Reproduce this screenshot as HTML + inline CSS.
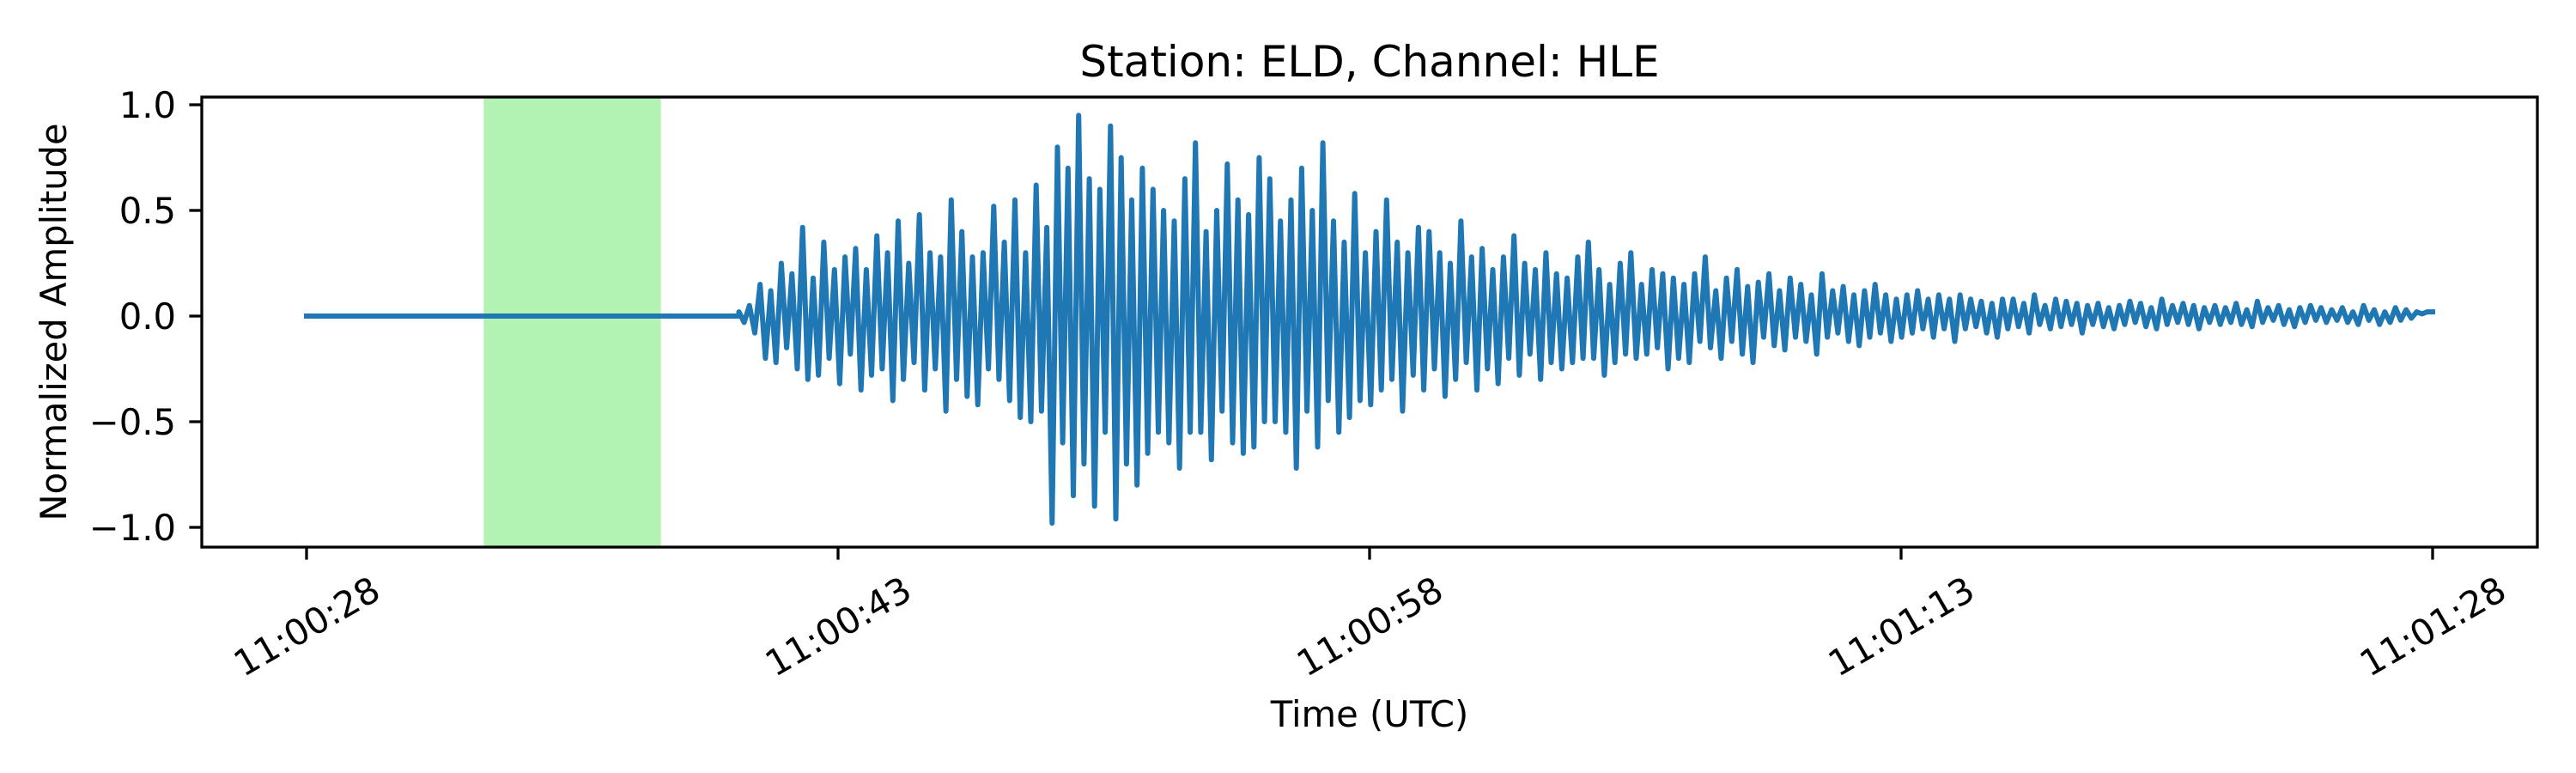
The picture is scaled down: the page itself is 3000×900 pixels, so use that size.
<!DOCTYPE html>
<html><head><meta charset="utf-8"><style>
html,body{margin:0;padding:0;background:#fff;}
svg{display:block;font-family:"DejaVu Sans","Liberation Sans",sans-serif;}
</style></head><body>
<svg id="chart" width="3000" height="900" viewBox="0 0 3000 900" xmlns="http://www.w3.org/2000/svg">
<rect width="3000" height="900" fill="#fff"/>
<g id="plot"></g>
</svg>
<script>
const xTickSeconds = [28, 43, 58, 73, 88];
const xTickLabels = ["11:00:28", "11:00:43", "11:00:58", "11:01:13", "11:01:28"];
const yTickValues = [1.0, 0.5, 0.0, -0.5, -1.0];
const yTickLabels = ["1.0", "0.5", "0.0", "\u22120.5", "\u22121.0"];
const spanStart = 33;
const spanEnd = 38;
const traceStart = 28;
const onsetTime = 40.2;
const traceEnd = 88;
const amplitudes = [
0.02,-0.03,0.05,-0.08,0.15,-0.2,0.12,-0.22,0.25,-0.15,0.2,-0.25,0.42,-0.3,0.18,-0.28,0.35,-0.2,0.22,-0.32,
0.28,-0.18,0.32,-0.35,0.22,-0.28,0.38,-0.25,0.3,-0.4,0.45,-0.3,0.25,-0.22,0.48,-0.35,0.3,-0.25,0.28,-0.45,
0.55,-0.3,0.4,-0.38,0.28,-0.42,0.3,-0.25,0.52,-0.3,0.35,-0.4,0.55,-0.48,0.3,-0.5,0.62,-0.45,0.42,-0.98,
0.8,-0.6,0.7,-0.85,0.95,-0.7,0.65,-0.9,0.6,-0.55,0.9,-0.96,0.75,-0.7,0.55,-0.8,0.7,-0.65,0.6,-0.55,
0.5,-0.6,0.45,-0.72,0.65,-0.55,0.82,-0.55,0.4,-0.68,0.5,-0.45,0.72,-0.6,0.55,-0.65,0.48,-0.62,0.75,-0.5,
0.65,-0.5,0.45,-0.55,0.55,-0.72,0.7,-0.45,0.5,-0.62,0.82,-0.4,0.45,-0.55,0.35,-0.48,0.58,-0.4,0.3,-0.42,
0.4,-0.35,0.55,-0.3,0.35,-0.45,0.3,-0.28,0.42,-0.35,0.4,-0.25,0.3,-0.38,0.25,-0.3,0.45,-0.22,0.28,-0.35,
0.32,-0.25,0.22,-0.32,0.28,-0.2,0.38,-0.28,0.25,-0.18,0.22,-0.3,0.3,-0.22,0.2,-0.25,0.18,-0.22,0.28,-0.2,
0.35,-0.2,0.22,-0.28,0.15,-0.22,0.25,-0.18,0.3,-0.2,0.15,-0.18,0.22,-0.15,0.2,-0.25,0.18,-0.2,0.15,-0.22,
0.2,-0.12,0.28,-0.15,0.12,-0.2,0.18,-0.12,0.22,-0.18,0.14,-0.22,0.16,-0.1,0.2,-0.14,0.12,-0.16,0.18,-0.1,
0.15,-0.12,0.1,-0.18,0.2,-0.1,0.12,-0.08,0.14,-0.12,0.1,-0.14,0.12,-0.1,0.15,-0.08,0.1,-0.12,0.08,-0.1,
0.1,-0.08,0.12,-0.06,0.08,-0.1,0.1,-0.06,0.08,-0.12,0.1,-0.06,0.08,-0.05,0.07,-0.08,0.06,-0.1,0.08,-0.06,
0.08,-0.05,0.06,-0.08,0.1,-0.04,0.05,-0.06,0.08,-0.05,0.07,-0.04,0.06,-0.08,0.05,-0.04,0.06,-0.05,0.04,-0.06,
0.05,-0.04,0.07,-0.03,0.06,-0.05,0.04,-0.06,0.08,-0.04,0.05,-0.03,0.06,-0.04,0.05,-0.06,0.04,-0.03,0.05,-0.04,
0.04,-0.03,0.06,-0.04,0.03,-0.05,0.07,-0.03,0.04,-0.02,0.05,-0.04,0.03,-0.05,0.04,-0.03,0.05,-0.02,0.04,-0.03,
0.03,-0.02,0.04,-0.03,0.02,-0.04,0.05,-0.02,0.03,-0.04,0.02,-0.03,0.04,-0.02,0.03,-0.01,0.02,0.01,0.02,0.02
];

const NS = "http://www.w3.org/2000/svg";
const L = 235, R = 2955, T = 113, B = 637;
function xs(t){ const x0 = 357, x1 = 2833; return x0 + (t - 28) * (x1 - x0) / 60; }
function ys(v){ return 368 - v * 246; }
const g = document.getElementById('plot');
function mk(tag, attrs){ const e = document.createElementNS(NS, tag); for (const k in attrs) e.setAttribute(k, attrs[k]); g.appendChild(e); return e; }

const span = mk('rect', {x: xs(spanStart), y: T, width: xs(spanEnd) - xs(spanStart), height: B - T, fill: '#b2f2b2'});



const n = amplitudes.length;
const dt = (traceEnd - onsetTime) / (n - 1);
let d = 'M' + xs(traceStart).toFixed(1) + ',' + ys(0).toFixed(1) + ' L' + xs(onsetTime).toFixed(1) + ',' + ys(0).toFixed(1);
for (let i = 0; i < n; i++) {
  d += ' L' + xs(onsetTime + i * dt).toFixed(1) + ',' + ys(amplitudes[i]).toFixed(1);
}
const line = mk('path', {d: d, fill: 'none', stroke: '#1f77b4', 'stroke-width': 6, 'stroke-linejoin': 'round', 'stroke-linecap': 'square'});



const frame = mk('rect', {x: L, y: T, width: R - L, height: B - T, fill: 'none', stroke: '#000', 'stroke-width': 3.3});



yTickValues.forEach((v, i) => {
  const y = ys(v);
  const tk = mk('line', {x1: L - 14.6, x2: L, y1: y, y2: y, stroke: '#000', 'stroke-width': 3.3});
  
  
  const tx = mk('text', {x: 205, y: y + 15, 'font-size': 41.7, 'text-anchor': 'end', fill: '#000'});
  tx.textContent = yTickLabels[i];
  
  
});

xTickSeconds.forEach((s, i) => {
  const x = xs(s);
  const tk = mk('line', {x1: x, x2: x, y1: B, y2: B + 14.6, stroke: '#000', 'stroke-width': 3.3});
  
  
  const tx = mk('text', {x: 0, y: 15, 'font-size': 41.7, 'text-anchor': 'middle', fill: '#000', transform: 'translate(' + x + ',729) rotate(-30)'});
  tx.textContent = xTickLabels[i];
  
  
});

const title = mk('text', {x: (L + R) / 2, y: 89, 'font-size': 50, 'text-anchor': 'middle', fill: '#000'});
title.textContent = 'Station: ELD, Channel: HLE';



const xl = mk('text', {x: (L + R) / 2, y: 846, 'font-size': 41.7, 'text-anchor': 'middle', fill: '#000'});
xl.textContent = 'Time (UTC)';



const yl = mk('text', {x: 0, y: 15, 'font-size': 41.7, 'text-anchor': 'middle', fill: '#000', transform: 'translate(62,375) rotate(-90)'});
yl.textContent = 'Normalized Amplitude';


</script>
</body></html>
